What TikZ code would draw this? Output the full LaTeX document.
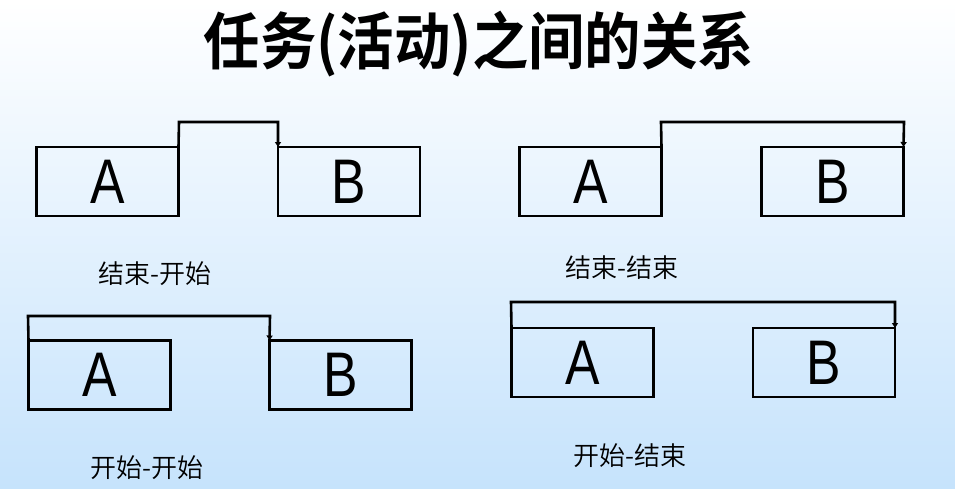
\documentclass[tikz,border=0pt]{standalone}
\usepackage{fontspec}
\setmainfont{Liberation Sans}
\newfontfamily\narrowsans[FakeStretch=0.82]{Liberation Sans}
\newfontfamily\cjkbold{Noto Sans CJK SC Bold}
\newfontfamily\cjklight{Noto Sans CJK SC DemiLight}
\usetikzlibrary{arrows.meta}
\definecolor{bgbottom}{RGB}{198,227,252}
\tikzset{
  taskbox/.style={draw=black, line width=2.6pt, minimum width=142pt, minimum height=69pt, inner sep=0pt, outer sep=0pt, font=\narrowsans\fontsize{63}{63}\selectfont},
  link/.style={draw=black, line width=2.6pt, line join=miter, -{Triangle[length=5pt,width=6pt]}},
  caption/.style={font=\cjklight\fontsize{26}{26}\selectfont, inner sep=0pt}
}
\begin{document}
\begin{tikzpicture}[x=1pt,y=-1pt]
\shade[top color=white, bottom color=bgbottom] (0,0) rectangle (955,488);
\useasboundingbox (0,0) rectangle (955,488);
\node[font=\cjkbold\fontsize{62}{62}\selectfont, inner sep=0pt, xscale=0.91] (title) at (479,44) {任务(活动)之间的关系};
% panel 1
\node[taskbox] (a1) at (107.5,181.5) {A};
\node[taskbox] (b1) at (349,181.5) {B};
\coordinate (p1) at (179,122);
\coordinate (q1) at (278,122);
\draw[link] (a1.north east) -- (p1) -- (q1) -- (b1.north west);
\node[caption] (c1) at (155,274) {结束-开始};
% panel 2
\node[taskbox] (a2) at (590.5,181.5) {A};
\node[taskbox] (b2) at (832.5,181.5) {B};
\coordinate (p2) at (661,122);
\coordinate (q2) at (904,122);
\draw[link] (a2.north east) -- (p2) -- (q2) -- (b2.north east);
\node[caption] (c2) at (622,268) {结束-结束};
% panel 3
\node[taskbox] (a3) at (99.5,375) {A};
\node[taskbox] (b3) at (340.5,375) {B};
\coordinate (p3) at (28,316);
\coordinate (q3) at (270,316);
\draw[link] (a3.north west) -- (p3) -- (q3) -- (b3.north west);
\node[caption] (c3) at (147,468) {开始-开始};
% panel 4
\node[taskbox] (a4) at (582.5,362.5) {A};
\node[taskbox] (b4) at (824,362.5) {B};
\coordinate (p4) at (511,302);
\coordinate (q4) at (895,302);
\draw[link] (a4.north west) -- (p4) -- (q4) -- (b4.north east);
\node[caption] (c4) at (630,456) {开始-结束};
\end{tikzpicture}
\end{document}
